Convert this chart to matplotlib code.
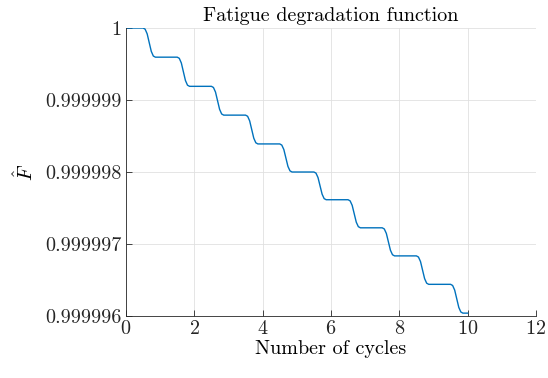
import numpy as np
import matplotlib
matplotlib.use('Agg')
import matplotlib.pyplot as plt
from matplotlib.ticker import FuncFormatter

plt.rcParams['font.family'] = 'cmr10'
plt.rcParams['mathtext.fontset'] = 'cm'
plt.rcParams['axes.formatter.use_mathtext'] = True

# Number of cycles and the drop of F-hat below 1 (in units of 1e-6)
cycles = [0.00,
          0.50, 0.56, 0.62, 0.68, 0.74, 0.80, 0.86,
          1.50, 1.56, 1.62, 1.68, 1.74, 1.80, 1.86,
          2.50, 2.56, 2.62, 2.68, 2.74, 2.80, 2.86,
          3.50, 3.56, 3.62, 3.68, 3.74, 3.80, 3.86,
          4.50, 4.56, 4.62, 4.68, 4.74, 4.80, 4.86,
          5.50, 5.56, 5.62, 5.68, 5.74, 5.80, 5.86,
          6.50, 6.56, 6.62, 6.68, 6.74, 6.80, 6.86,
          7.50, 7.56, 7.62, 7.68, 7.74, 7.80, 7.86,
          8.50, 8.56, 8.62, 8.68, 8.74, 8.80, 8.86,
          9.50, 9.56, 9.62, 9.68, 9.74, 9.80, 9.86,
          10.00]
drop = [0.000,
        0.000, 0.016, 0.081, 0.203, 0.324, 0.389, 0.405,
        0.405, 0.421, 0.486, 0.608, 0.729, 0.794, 0.810,
        0.810, 0.826, 0.890, 1.010, 1.130, 1.194, 1.210,
        1.210, 1.226, 1.290, 1.410, 1.530, 1.594, 1.610,
        1.610, 1.626, 1.688, 1.805, 1.922, 1.984, 2.000,
        2.000, 2.015, 2.077, 2.193, 2.308, 2.370, 2.385,
        2.385, 2.401, 2.463, 2.580, 2.697, 2.759, 2.775,
        2.775, 2.791, 2.853, 2.970, 3.087, 3.149, 3.165,
        3.165, 3.181, 3.244, 3.363, 3.481, 3.544, 3.560,
        3.560, 3.576, 3.640, 3.760, 3.880, 3.944, 3.960,
        3.960]

F_hat = 1 - np.array(drop) * 1e-6

fig = plt.figure(figsize=(5.48, 3.78), dpi=100)
ax = fig.add_axes([0.2299, 0.164, 0.7482, 0.7619])

ax.plot(cycles, F_hat, color='#0072BD', linewidth=1.0)

ax.set_xlim(0, 12)
ax.set_ylim(0.999996, 1.0)
ax.set_xticks(np.arange(0, 13, 2))
ax.set_yticks([0.999996, 0.999997, 0.999998, 0.999999, 1.0])
ax.yaxis.set_major_formatter(FuncFormatter(lambda v, p: f'{v:.6f}'.rstrip('0').rstrip('.')))

ax.grid(True, color='#e0e0e0', linewidth=0.6)
ax.set_axisbelow(True)
for s in ['top', 'right']:
    ax.spines[s].set_visible(False)
for s in ['left', 'bottom']:
    ax.spines[s].set_color('#262626')
    ax.spines[s].set_linewidth(0.6)
ax.tick_params(direction='in', length=4, width=0.6, colors='#262626', labelsize=14.5, pad=3)

ax.set_title('Fatigue degradation function', fontsize=14.5, pad=5)
ax.set_xlabel('Number of cycles', fontsize=14.5, labelpad=1)
ax.set_ylabel(r'$\hat{F}$', fontsize=14.5, labelpad=6)

fig.savefig('out.png', dpi=100)
